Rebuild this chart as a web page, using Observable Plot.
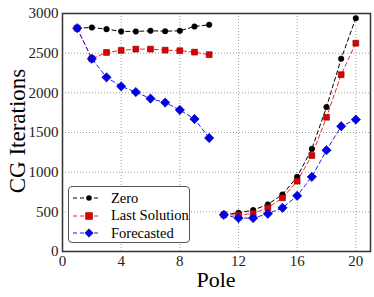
<!DOCTYPE html>
<html><head><meta charset="utf-8">
<script src="https://cdn.jsdelivr.net/npm/d3@7"></script>
<script src="https://cdn.jsdelivr.net/npm/@observablehq/plot@0.6"></script>
<style>
body{margin:0;background:#fff;}
#wrap{position:relative;width:374px;height:297px;font-family:'Liberation Serif','Times New Roman',serif;}
#wrap svg text{font-family:'Liberation Serif','Times New Roman',serif;}
#legend{position:absolute;left:68px;top:186px;width:122px;height:57px;border:1px solid #555;border-radius:4px;background:#fff;box-sizing:border-box;font-size:14.5px;color:#000;}
.row{position:absolute;left:0;height:18px;display:flex;align-items:center;}
.lbl{font-family:'Liberation Serif','Times New Roman',serif !important;font-weight:normal;margin-left:8px;}
</style></head>
<body><div id="wrap"></div>
<script>
const poles = [1,2,3,4,5,6,7,8,9,10,11,12,13,14,15,16,17,18,19,20];
const segment = [0,0,0,0,0,0,0,0,0,0,1,1,1,1,1,1,1,1,1,1];
const zero = [2815,2824,2803,2774,2774,2782,2777,2782,2836,2858,463,488,522,593,719,941,1293,1821,2430,2941];
const lastSolution = [2815,2430,2509,2535,2551,2551,2538,2531,2513,2481,463,459,480,551,677,887,1210,1692,2229,2626];
const forecasted = [2815,2430,2195,2082,2010,1927,1877,1784,1670,1431,463,421,421,476,551,702,941,1277,1579,1663];
const seriesNames = ["Zero","Last Solution","Forecasted"];
const xTicks = [0,4,8,12,16,20];
const yTicks = [0,500,1000,1500,2000,2500,3000];

const seriesVals = [zero, lastSolution, forecasted];
const data = [];
seriesNames.forEach((s, k) => poles.forEach((p, i) => data.push({series: s, pole: p, seg: segment[i], value: seriesVals[k][i]})));
const lineColor = {"Zero": "#000000", "Last Solution": "#ff2020", "Forecasted": "#1a1aff"};
const sel = s => data.filter(d => d.series === s);
const serif = "'Liberation Serif', 'Times New Roman', serif";

const chart = Plot.plot({
  width: 374, height: 297,
  marginLeft: 62, marginRight: 4, marginTop: 13, marginBottom: 46,
  style: {fontFamily: serif, fontSize: "15px", color: "#222", background: "#fff"},
  x: {domain: [0, 21]},
  y: {domain: [0, 3000]},
  marks: [
    Plot.gridX(xTicks, {stroke: "#888", strokeOpacity: 1, strokeDasharray: "1,2", strokeWidth: 0.8}),
    Plot.gridY(yTicks, {stroke: "#888", strokeOpacity: 1, strokeDasharray: "1,2", strokeWidth: 0.8}),
    ...seriesNames.map(s => Plot.line(sel(s), {x: "pole", y: "value", z: "seg", stroke: lineColor[s], strokeWidth: 1, strokeDasharray: "4,3"})),
    Plot.dot(sel("Zero"), {x: "pole", y: "value", r: 2.8, fill: "#000", stroke: "#000", strokeWidth: 0.5}),
    Plot.dot(sel("Last Solution"), {x: "pole", y: "value", symbol: "square", r: 3.3, fill: "#e00000", stroke: "#700", strokeWidth: 0.6}),
    Plot.dot(sel("Forecasted"), {x: "pole", y: "value", symbol: "diamond2", r: 4.2, fill: "#0000ee", stroke: "#000088", strokeWidth: 0.6}),
    Plot.axisX(xTicks, {tickSize: 0, tickPadding: 4, fontSize: 15, fontFamily: serif, tickFormat: d => String(d), label: null}),
    Plot.axisY(yTicks, {tickSize: 0, tickPadding: 4, fontSize: 15, fontFamily: serif, tickFormat: d => String(d), label: null}),
    Plot.frame({stroke: "#333", strokeWidth: 1.5})
  ]
});
const wrap = document.getElementById("wrap");
wrap.appendChild(chart);

const xt = document.createElement("div");
xt.textContent = "Pole";
xt.style.cssText = "position:absolute;left:166px;width:100px;text-align:center;top:267px;font-size:22px;color:#000;";
wrap.appendChild(xt);
const yt = document.createElement("div");
yt.textContent = "CG Iterations";
yt.style.cssText = "position:absolute;left:-62px;top:118px;width:160px;text-align:center;font-size:23px;color:#000;transform:rotate(-90deg);";
wrap.appendChild(yt);

const lg = document.createElement("div");
lg.id = "legend";
const markers = {
  "Zero": '<circle cx="16" cy="5" r="2.8" fill="#000"/>',
  "Last Solution": '<rect x="12.7" y="1.7" width="6.6" height="6.6" fill="#e00000" stroke="#700" stroke-width="0.6"/>',
  "Forecasted": '<path d="M16,0.8L20.2,5L16,9.2L11.8,5Z" fill="#0000ee" stroke="#000088" stroke-width="0.6"/>'
};
seriesNames.forEach((s, i) => {
  const r = document.createElement("div");
  r.className = "row";
  r.style.top = (2 + i * 17.5) + "px";
  r.innerHTML = '<svg width="30" height="10" style="margin-left:4px"><line x1="0" y1="5" x2="26" y2="5" stroke="' + lineColor[s] + '" stroke-width="1" stroke-dasharray="4,3"/>' + markers[s] + '</svg><span class="lbl">' + s + '</span>';
  lg.appendChild(r);
});
wrap.appendChild(lg);
</script>
</body></html>
